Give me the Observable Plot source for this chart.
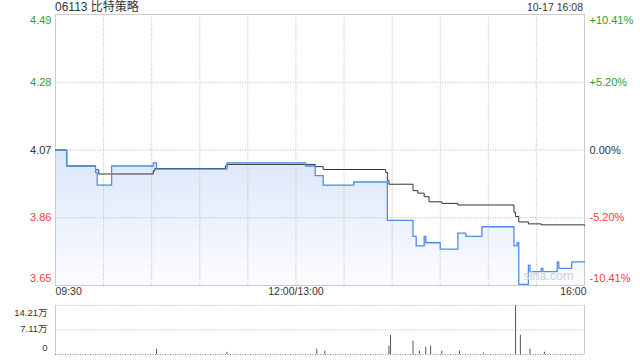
<!DOCTYPE html>
<html><head><meta charset="utf-8">
<script src="https://cdn.jsdelivr.net/npm/d3@7"></script>
<script src="https://cdn.jsdelivr.net/npm/@observablehq/plot@0.6"></script>
<style>
body{margin:0;background:#fff;font-family:"Liberation Sans",Arial,"Noto Sans CJK SC",sans-serif;}
#wrap{position:relative;width:640px;height:360px;overflow:hidden;background:#fff}
#main{position:absolute;left:0;top:0}
#vol{position:absolute;left:0;top:300px}
.t{position:absolute;top:0;line-height:15px;color:#333;white-space:nowrap}
</style></head><body>
<div id="wrap">
<div id="main"></div><div id="vol"></div>
<div class="t" id="title" style="left:55px;font-size:12px"></div>
<div class="t" id="stamp" style="right:57px;font-size:10.5px"></div>
</div>
<script>
const stockTitle = "06113 比特策略";
const stampText = "10-17 16:08";
const prevClose = 4.07;
const limitPct = 10.41;
const priceTickPct = [10.41, 5.20, 0, -5.20, -10.41];
const priceTickLabels = ["4.49", "4.28", "4.07", "3.86", "3.65"];
const pctTickLabels = ["+10.41%", "+5.20%", "0.00%", "-5.20%", "-10.41%"];
const timeLabels = ["09:30", "12:00/13:00", "16:00"];
const timeLabelAt = ["09:30", "12:00", "16:00"];
const gridTimes = ["10:00","10:30","11:00","11:30","12:00","13:30","14:00","14:30","15:00","15:30"];

const priceTimes = ["09:30","09:37","09:55","09:56","10:05","10:31","10:33","11:17","13:06","13:12","13:17","13:36","13:57","14:13","14:15","14:20","14:21","14:30","14:41","14:46","14:56","15:16","15:18","15:19","15:25","15:26","15:33","15:34","15:43","15:44","15:52","16:00"];
const priceValues = [4.07,4.02,4.00,3.96,4.02,4.03,4.01,4.03,4.02,3.99,3.96,3.97,3.85,3.80,3.77,3.80,3.78,3.76,3.81,3.80,3.83,3.77,3.78,3.65,3.71,3.69,3.70,3.69,3.72,3.70,3.72,3.72];

const avgTimes = ["09:30","09:37","09:55","09:57","10:31","10:32","11:16","11:17","13:12","13:17","13:56","13:57","13:58","14:13","14:16","14:20","14:23","14:31","14:41","15:16","15:17","15:19","15:25","15:33","16:00"];
const avgValues = [4.07,4.02,4.008,3.995,4.005,4.012,4.02,4.025,4.018,4.009,4.0,3.975,3.963,3.943,3.935,3.924,3.908,3.903,3.898,3.875,3.862,3.845,3.839,3.836,3.834];

const volTimes = ["10:33","11:17","13:13","13:18","13:58","13:59","14:13","14:17","14:21","14:24","14:31","14:42","14:57","15:17","15:20","15:26","15:35"];
const volValues = [15400,6000,15400,9600,24000,55800,38500,9600,21200,24000,9600,9600,3900,142100,55800,15400,6700];
const volTicks = [0, 71050, 142100];
const volTickLabels = ["0", "7.11万", "14.21万"];

const green = "#2ea02e", red = "#f23c3c", dark = "#333";
const font = '"Liberation Sans", Arial, "Noto Sans CJK SC", sans-serif';

function toIdx(t){const [h,m]=t.split(":").map(Number); let v=h*60+m-570; if(h>=13) v-=60; return v;}

document.getElementById("title").textContent = stockTitle;
document.getElementById("stamp").textContent = stampText;

const price = priceTimes.map((t,i)=>({i:toIdx(t), p:priceValues[i]}));
const avg = avgTimes.map((t,i)=>({i:toIdx(t), p:avgValues[i]}));
const vol = volTimes.map((t,i)=>({i:toIdx(t), v:volValues[i]}));
const yDomain = [prevClose*(1-limitPct/100), prevClose*(1+limitPct/100)];
const xDomain = [toIdx("09:30"), toIdx("16:00")];
const ticks = priceTickPct.map((p,i)=>({y:prevClose*(1+p/100), lab:priceTickLabels[i], pct:pctTickLabels[i], color:p>0?green:p<0?red:dark}));

const gradMark = () => {
  const ns="http://www.w3.org/2000/svg";
  const defs=document.createElementNS(ns,"defs");
  const g=document.createElementNS(ns,"linearGradient");
  g.setAttribute("id","areaGrad");g.setAttribute("x1","0");g.setAttribute("y1","0");g.setAttribute("x2","0");g.setAttribute("y2","1");
  [["0%","#dbe6f9"],["100%","#fbfcff"]].forEach(([o,c])=>{const s=document.createElementNS(ns,"stop");s.setAttribute("offset",o);s.setAttribute("stop-color",c);g.appendChild(s);});
  defs.appendChild(g); return defs;
};

const tickMarks = [];
ticks.forEach((d,k)=>{
  const dy = k===0?6:(k===ticks.length-1?-7:0);
  tickMarks.push(Plot.text([d],{y:"y",text:"lab",frameAnchor:"left",textAnchor:"end",dx:-4,dy,fill:d.color,fontSize:11}));
  tickMarks.push(Plot.text([d],{y:"y",text:"pct",frameAnchor:"right",textAnchor:"start",dx:5,dy,fill:d.color,fontSize:11}));
});

const main = Plot.plot({
  width:640, height:300,
  marginTop:14, marginBottom:15, marginLeft:55, marginRight:56,
  style:{fontFamily:font, background:"transparent", overflow:"visible"},
  x:{domain:xDomain, axis:null},
  y:{domain:yDomain, axis:null},
  marks:[
    gradMark,
    Plot.areaY(price,{x:"i",y1:yDomain[0],y2:"p",curve:"step-after",fill:"url(#areaGrad)"}),
    Plot.ruleX(gridTimes.map(toIdx),{stroke:"#bbb",strokeDasharray:"1,1.5"}),
    Plot.ruleY(ticks.slice(1,-1),{y:"y",stroke:"#bbb",strokeDasharray:"1,1.5"}),
    Plot.frame({stroke:"#ccc"}),
    Plot.lineY(avg,{x:"i",y:"p",curve:"step-after",stroke:"#333",strokeWidth:1}),
    Plot.lineY(price,{x:"i",y:"p",curve:"step-after",stroke:"#4e8de8",strokeWidth:1.3}),
    Plot.text(["sina.com"],{frameAnchor:"bottom-right",textAnchor:"end",dx:-11,dy:-6,fill:"#cfcfcf",fontSize:12.5}),
    ...tickMarks,
    Plot.text(timeLabels.map((l,k)=>({x:toIdx(timeLabelAt[k]),l,k})).filter(d=>d.k===0),{x:"x",text:"l",frameAnchor:"bottom",textAnchor:"start",dy:9,fill:dark,fontSize:10.5}),
    Plot.text(timeLabels.map((l,k)=>({x:toIdx(timeLabelAt[k]),l,k})).filter(d=>d.k===1),{x:"x",text:"l",frameAnchor:"bottom",textAnchor:"middle",dy:9,fill:dark,fontSize:10.5}),
    Plot.text(timeLabels.map((l,k)=>({x:toIdx(timeLabelAt[k]),l,k})).filter(d=>d.k===2),{x:"x",text:"l",frameAnchor:"bottom",textAnchor:"end",dx:2,dy:9,fill:dark,fontSize:10.5})
  ]
});
document.getElementById("main").appendChild(main);

const vt = volTicks.map((v,k)=>({v,l:volTickLabels[k],k}));
const volPlot = Plot.plot({
  width:640, height:60,
  marginTop:5, marginBottom:6, marginLeft:55, marginRight:56,
  style:{fontFamily:font, background:"transparent", overflow:"visible"},
  x:{domain:xDomain, axis:null},
  y:{domain:[0, volTicks[volTicks.length-1]], axis:null},
  marks:[
    Plot.ruleY(vt.filter(d=>d.k>0),{y:"v",stroke:"#bbb",strokeDasharray:"1,1.5"}),
    Plot.ruleY([0],{stroke:"#888",strokeDasharray:"1,1.5"}),
    Plot.ruleX(xDomain,{stroke:"#ccc"}),
    Plot.ruleX(vol,{x:"i",y1:0,y2:"v",stroke:"#555",strokeWidth:1}),
    Plot.text(vt.filter(d=>d.k===2),{y:"v",text:"l",frameAnchor:"left",textAnchor:"end",dx:-8,dy:7,fill:dark,fontSize:9.5}),
    Plot.text(vt.filter(d=>d.k===1),{y:"v",text:"l",frameAnchor:"left",textAnchor:"end",dx:-8,dy:-1,fill:dark,fontSize:9.5}),
    Plot.text(vt.filter(d=>d.k===0),{y:"v",text:"l",frameAnchor:"left",textAnchor:"end",dx:-8,dy:-7,fill:dark,fontSize:9.5})
  ]
});
document.getElementById("vol").appendChild(volPlot);
</script>
</body></html>
